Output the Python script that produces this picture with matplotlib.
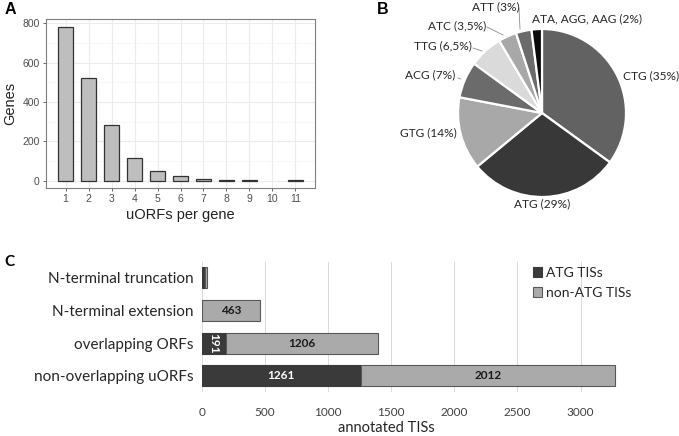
import matplotlib
matplotlib.use("Agg")
import matplotlib.pyplot as plt
import numpy as np

# panel A: uORFs per gene
uorf_counts = [1, 2, 3, 4, 5, 6, 7, 8, 9, 10, 11]
genes = [780, 523, 281, 114, 49, 22, 10, 5, 3, 0, 2]

# panel B: start codon shares
codons = ["CTG (35%)", "ATG (29%)", "GTG (14%)", "ACG (7%)", "TTG (6,5%)",
          "ATC (3,5%)", "ATT (3%)", "ATA, AGG, AAG (2%)"]
shares = [35, 29, 14, 7, 6.5, 3.5, 3, 2]
pie_colors = ["#626262", "#383838", "#a8a8a8", "#6b6b6b", "#dadada",
              "#a8a8a8", "#6b6b6b", "#0a0a0a"]

# panel C: annotated TISs
categories = ["non-overlapping uORFs", "overlapping ORFs",
              "N-terminal extension", "N-terminal truncation"]
atg_tis = [1261, 191, 0, 28]
non_atg_tis = [2012, 1206, 463, 12]

W, H = 679, 436
fig = plt.figure(figsize=(W / 100, H / 100), dpi=100)


def box(x0, y0, x1, y1):
    # pixel box (top-left origin) -> figure fraction
    return [x0 / W, 1 - y1 / H, (x1 - x0) / W, (y1 - y0) / H]


# ---------- A ----------
axA = fig.add_axes(box(46, 19, 315, 188))
x = np.array(uorf_counts)
y = np.array(genes)
keep = y > 0
axA.bar(x[keep], y[keep], width=0.68, color="#bebebe", edgecolor="#333333",
        linewidth=0.9, zorder=3)
axA.set_xlim(0.15, 11.85)
axA.set_ylim(-37, 822)
axA.set_xticks(uorf_counts)
axA.set_yticks([0, 200, 400, 600, 800])
axA.set_yticks([100, 300, 500, 700], minor=True)
axA.grid(True, which="major", color="#ebebeb", linewidth=0.8, zorder=0)
axA.grid(True, which="minor", axis="y", color="#f4f4f4", linewidth=0.5, zorder=0)
axA.tick_params(axis="both", which="major", labelsize=7.5, colors="#4d4d4d",
                length=2.5, width=0.6, pad=2)
axA.tick_params(axis="both", which="minor", length=0)
for s in axA.spines.values():
    s.set_color("#7f7f7f")
    s.set_linewidth(0.8)
axA.set_xlabel("uORFs per gene", fontsize=10.5, color="#222222", labelpad=3,
               family="Liberation Sans")
axA.set_ylabel("Genes", fontsize=10.5, color="#222222", labelpad=4,
               family="Liberation Sans")
for lab in axA.get_xticklabels() + axA.get_yticklabels():
    lab.set_family("Liberation Sans")
fig.text(5 / W, 1 - 9 / H, "A", fontsize=11.5, fontweight="bold",
         family="Liberation Sans", va="center", ha="left")

# ---------- B ----------
cx, cy, r = 542, 113, 84
half = 130
axB = fig.add_axes(box(cx - half, cy - half, cx + half, cy + half))
axB.pie(shares, colors=pie_colors, startangle=90, counterclock=False,
        radius=1, wedgeprops=dict(edgecolor="white", linewidth=1.6))
axB.set_xlim(-half / r, half / r)
axB.set_ylim(-half / r, half / r)
axB.set_aspect("equal")
axB.axis("off")


def px(xp, yp):
    return ((xp - cx) / r, (cy - yp) / r)


pie_font = dict(fontsize=8.6, family="Lato", color="#262626")
label_spots = [
    (623, 76, "left", None),
    (542, 204, "center", None),
    (457, 133, "right", None),
    (455, 75, "right", (458, 78, 461, 79)),
    (472, 46, "right", (473, 48, 482, 51)),
    (486, 26, "right", (487, 27, 503, 35)),
    (496, 7, "center", (519, 8, 520, 29)),
    (532, 19, "left", None),
]
for name, (xp, yp, ha, line) in zip(codons, label_spots):
    axB.text(*px(xp, yp), name, ha=ha, va="center", clip_on=False, **pie_font)
    if line is not None:
        x0, y0 = px(line[0], line[1])
        x1, y1 = px(line[2], line[3])
        axB.plot([x0, x1], [y0, y1], color="#8c8c8c", linewidth=0.6,
                 clip_on=False)
fig.text(377 / W, 1 - 9 / H, "B", fontsize=11.5, fontweight="bold",
         family="Liberation Sans", va="center", ha="left")

# ---------- C ----------
axC = fig.add_axes(box(201.7, 261.5, 201.7 + 3500 * 0.1263, 392))
ypos = np.arange(len(categories))
atg = np.array(atg_tis)
non = np.array(non_atg_tis)
axC.barh(ypos, atg, height=0.64, color="#3a3a3a", edgecolor="#3a3a3a",
         linewidth=0.8, zorder=3, label="ATG TISs")
axC.barh(ypos, non, left=atg, height=0.64, color="#aaaaaa",
         edgecolor="#595959", linewidth=0.8, zorder=3, label="non-ATG TISs")
axC.set_xlim(0, 3500)
axC.set_ylim(-0.5, 3.5)
axC.set_xticks([0, 500, 1000, 1500, 2000, 2500, 3000])
axC.set_yticks(ypos)
axC.set_yticklabels(categories)
axC.grid(True, axis="x", color="#d9d9d9", linewidth=0.7, zorder=0)
for s in axC.spines.values():
    s.set_visible(False)
axC.tick_params(axis="both", length=0)
axC.tick_params(axis="x", labelsize=8.5, colors="#404040", pad=11)
axC.tick_params(axis="y", labelsize=11, colors="#262626", pad=6)
for lab in axC.get_xticklabels() + axC.get_yticklabels():
    lab.set_family("Lato")

for i in range(len(categories)):
    if atg[i] >= 100:
        rot = -90 if atg[i] < 400 else 0
        axC.text(atg[i] / 2, ypos[i], str(atg[i]), ha="center", va="center",
                 color="white", fontsize=8.5, fontweight="bold", family="Lato",
                 rotation=rot, zorder=4)
    if non[i] >= 100:
        axC.text(atg[i] + non[i] / 2, ypos[i], str(non[i]), ha="center",
                 va="center", color="#1a1a1a", fontsize=8.5, fontweight="bold",
                 family="Lato", zorder=4)

fig.text(386 / W, 1 - 428 / H, "annotated TISs", ha="center", va="center",
         fontsize=10.5, family="Lato", color="#262626")
fig.legend(handles=axC.get_legend_handles_labels()[0],
           labels=axC.get_legend_handles_labels()[1],
           loc="upper left", bbox_to_anchor=(527 / W, 1 - 261 / H),
           frameon=False, handlelength=0.7, handleheight=0.7,
           handletextpad=0.3, labelspacing=0.6, borderaxespad=0,
           prop=dict(family="Lato", size=10), labelcolor="#262626")
fig.text(4 / W, 1 - 262 / H, "C", fontsize=11, fontweight="bold",
         family="Lato", va="center", ha="left")

fig.savefig("out.png", dpi=100)
